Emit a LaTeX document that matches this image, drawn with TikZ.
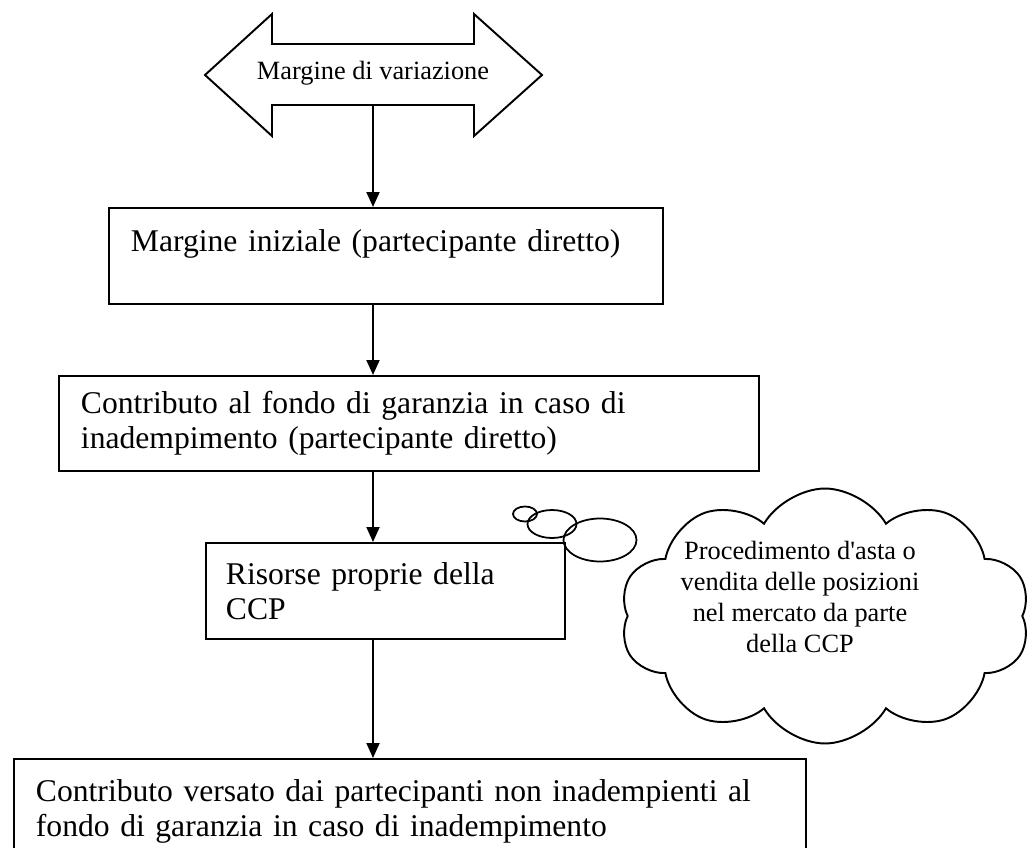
\documentclass[tikz,border=0pt]{standalone}
\usepackage{fontspec}
\setmainfont{Liberation Serif}
\usetikzlibrary{shapes.symbols,arrows.meta}
\begin{document}
\begin{tikzpicture}[x=0.02cm, y=-0.02cm,
  box/.style={draw, line width=1.1pt, anchor=north west, align=left, inner ysep=0pt, inner xsep=0.44cm, font=\fontsize{18}{19.8}\selectfont},
  flow/.style={line width=1.1pt, -{Triangle[length=0.3cm, width=0.26cm]}},
  small/.style={font=\fontsize{15}{17.6}\selectfont, align=center}]
  \clip (0,0) rectangle (1035,848);
  \draw[line width=1.1pt] (205,75) -- (272,14) -- (272,44) -- (474,44) -- (474,14) -- (542,75) -- (474,136) -- (474,105) -- (272,105) -- (272,136) -- cycle;
  \node[small] (variaz) at (373,73) {Margine di variazione};
  \coordinate (varbot) at (373,105);
  \node[box, text width=10.2cm, text height=0.88cm, text depth=1.04cm] (iniz) at (108,207) {Margine iniziale (partecipante diretto)};
  \node[box, text width=13.12cm, minimum height=1.9cm] (contr) at (58,375) {Contributo al fondo di garanzia in caso di\\inadempimento (partecipante diretto)};
  \node[box, inner xsep=0.4cm, text width=6.38cm, minimum height=1.92cm] (risorse) at (205,542) {Risorse proprie della\\CCP};
  \node[box, text width=14.96cm, minimum height=2.1cm] (versato) at (13,758) {Contributo versato dai partecipanti non inadempienti al\\fondo di garanzia in caso di inadempimento};
  \draw[flow] (varbot) -- (varbot |- iniz.north);
  \draw[flow] (iniz.south -| varbot) -- (varbot |- contr.north);
  \draw[flow] (contr.south -| varbot) -- (varbot |- risorse.north);
  \draw[flow] (risorse.south -| varbot) -- (varbot |- versato.north);
  % nuvola
  \node[cloud, draw, line width=1.1pt, cloud puffs=10, cloud puff arc=120, aspect=1.6, minimum width=8.2cm, minimum height=5.1cm, inner sep=0pt] (nuvola) at (825,616) {};
  \draw[line width=1pt] (525,514) ellipse [x radius=0.24cm, y radius=0.15cm];
  \draw[line width=1pt] (552,524) ellipse [x radius=0.49cm, y radius=0.28cm];
  \draw[line width=1pt] (600,540) ellipse [x radius=0.73cm, y radius=0.43cm];
  \node[small] (asta) at (800,597) {Procedimento d\textquotesingle asta o\\vendita delle posizioni\\nel mercato da parte\\della CCP};
\end{tikzpicture}
\end{document}
